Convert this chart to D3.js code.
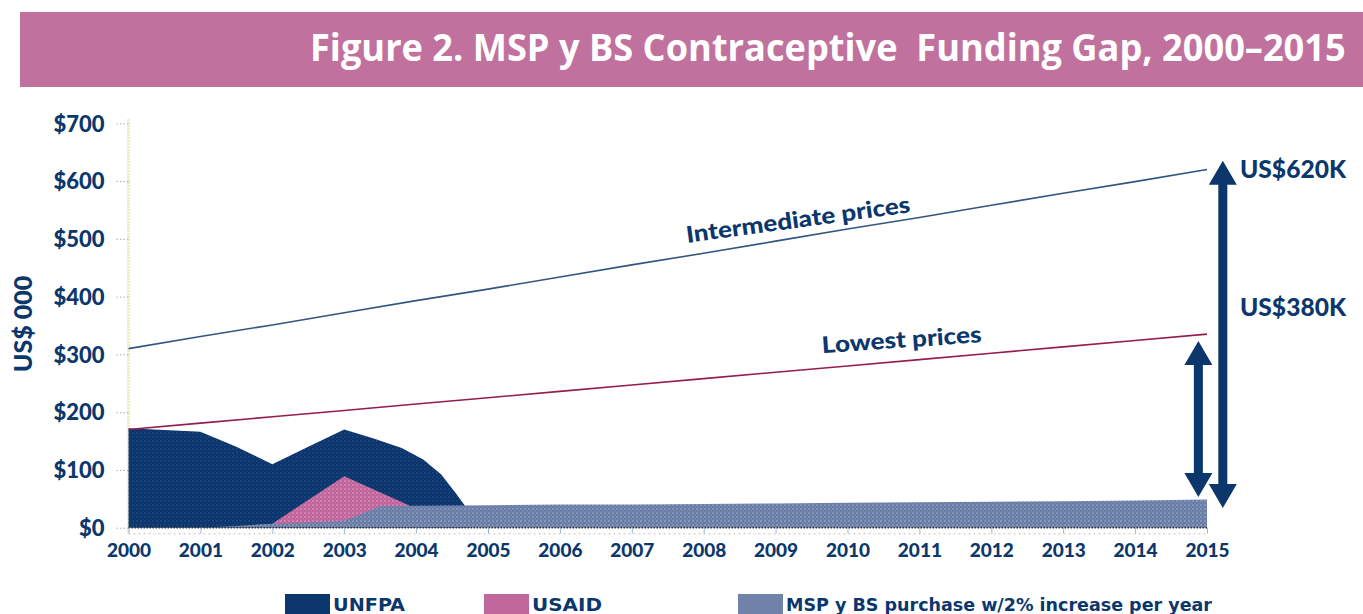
<!DOCTYPE html>
<html><head><meta charset="utf-8">
<script src="https://cdn.jsdelivr.net/npm/d3@7"></script>
<style>
html,body{margin:0;padding:0;background:#fff;}
svg{display:block;}
</style></head>
<body>
<svg id="chart" width="1363" height="614"></svg>
<script>
// ---------- data ----------
const title = "Figure 2. MSP y BS Contraceptive  Funding Gap, 2000\u20132015";
const years = [2000,2001,2002,2003,2004,2005,2006,2007,2008,2009,2010,2011,2012,2013,2014,2015];
const yTicks = [0,100,200,300,400,500,600,700];
const intermediatePrices = [310,331,351,372,393,413,434,455,475,496,517,537,558,579,599,620];
const lowestPrices = [170,181,192,203,214,225,236,247,258,269,280,291,302,313,324,335];
const unfpaX = [2000,2001,2001.5,2002,2002.5,2003,2003.4,2003.8,2004.1,2004.35,2004.55,2004.68,2004.75];
const unfpaY = [172,166,140,110,140,170,155,138,118,92,60,38,30];
const usaidX = [2002,2003,2003.9];
const usaidY = [7,89,39];
const mspX = [2000,2001,2001.5,2002,2002.5,2003,2003.5,2004,2005,2006,2007,2008,2009,2010,2011,2012,2013,2014,2015];
const mspY = [0,0,3,7,9,12,37,38,39,40,40,41,42,43,44,45,46,47,49];
const legendLabels = ["UNFPA","USAID","MSP y BS purchase w/2% increase per year"];
const gapLabels = ["US$620K","US$380K"];

// ---------- styles ----------
const NAVY = "#0b376d", PINK = "#c0679b", GREY = "#7082aa";
const svg = d3.select("#chart");
const x = d3.scaleLinear().domain([2000,2015]).range([128.5,1207]);
const y = d3.scaleLinear().domain([0,700]).range([527.7,123.3]);
const zip = (xs, ys) => xs.map((v,i)=>[v, ys[i]]);

// halftone-like patterns
const defs = svg.append("defs");
function pattern(id, base, dot){
  const p = defs.append("pattern").attr("id",id).attr("patternUnits","userSpaceOnUse")
    .attr("width",4).attr("height",4);
  p.append("rect").attr("width",4).attr("height",4).attr("fill",base);
  p.append("circle").attr("cx",1).attr("cy",1).attr("r",0.9).attr("fill",dot);
  p.append("circle").attr("cx",3).attr("cy",3).attr("r",0.7).attr("fill",dot).attr("opacity",0.6);
}
pattern("pNavy", "#0a346a", "#1f4a82");
pattern("pPink", "#bf6499", "#d88fbd");
pattern("pGrey", "#6a7ca6", "#8aa3c4");

// title banner
svg.append("rect").attr("x",20).attr("y",12).attr("width",1343).attr("height",75).attr("fill","#c1719e");
const tt = svg.append("text").attr("text-anchor","start")
  .attr("font-family","'Open Sans', Lato, sans-serif").attr("font-weight",700).attr("font-size",37)
  .attr("fill","#fff").style("white-space","pre").text(title);
const tw = tt.node().getComputedTextLength();
const tScale = 1036 / tw;
tt.attr("transform",`translate(${1346 - 1036},61) scale(${tScale},1)`);

// vertical yellowish axis line
svg.append("line").attr("x1",x(2000)).attr("x2",x(2000)).attr("y1",y(700)-4).attr("y2",y(0)+6)
  .attr("stroke","#eeeab0").attr("stroke-width",3).attr("stroke-dasharray","2,1");

// y axis
const yAxis = d3.axisLeft(y).tickValues(yTicks).tickSize(14).tickPadding(10).tickFormat(d=>"$"+d);
const gy = svg.append("g").attr("transform",`translate(${x(2000)},0)`).call(yAxis);
gy.select(".domain").remove();
gy.selectAll(".tick line").attr("stroke","#9fb0cc").attr("stroke-dasharray","1.5,2");
gy.selectAll(".tick text").attr("fill",NAVY).attr("font-family","Lato, sans-serif")
  .attr("font-weight",900).attr("font-size",22).attr("dy","0.35em");

// y label
svg.append("text").attr("transform","translate(32,324) rotate(-90)").attr("text-anchor","middle")
  .attr("font-family","Lato, sans-serif").attr("font-weight",900).attr("font-size",25)
  .attr("fill",NAVY).text("US$ 000");

// areas
const area = d3.area().x(d=>x(d[0])).y0(y(0)).y1(d=>y(d[1]));
svg.append("path").datum(zip(unfpaX,unfpaY)).attr("d",area).attr("fill","url(#pNavy)");
svg.append("path").datum(zip(usaidX,usaidY)).attr("d",area).attr("fill","url(#pPink)");
svg.append("path").datum(zip(mspX,mspY)).attr("d",area).attr("fill","url(#pGrey)");

// x axis
svg.append("line").attr("x1",x(2000)).attr("x2",x(2015)).attr("y1",y(0)).attr("y2",y(0))
  .attr("stroke","#333").attr("stroke-width",1.5).attr("stroke-dasharray","1.5,1.5");
svg.append("line").attr("x1",x(2000)).attr("x2",x(2015)).attr("y1",y(0)+6).attr("y2",y(0)+6)
  .attr("stroke","#d8d8d8").attr("stroke-width",1.5).attr("stroke-dasharray","2,3");
const xAxis = d3.axisBottom(x).tickValues(years).tickSize(6).tickPadding(10).tickFormat(d3.format("d"));
const gx = svg.append("g").attr("transform",`translate(0,${y(0)})`).call(xAxis);
gx.select(".domain").remove();
gx.selectAll(".tick line").attr("stroke","#9fb8d0").attr("stroke-width",1);
gx.selectAll(".tick text").attr("fill",NAVY).attr("font-family","Lato, sans-serif")
  .attr("font-weight",900).attr("font-size",19);

// price lines
const line = d3.line().x(d=>x(d[0])).y(d=>y(d[1]));
svg.append("path").datum(zip(years,intermediatePrices)).attr("d",line)
  .attr("fill","none").attr("stroke","#34557f").attr("stroke-width",1.6);
svg.append("path").datum(zip(years,lowestPrices)).attr("d",line)
  .attr("fill","none").attr("stroke","#951c4e").attr("stroke-width",1.6);

// line labels
svg.append("text").attr("transform",`translate(${x(2007.77)},${y(493)}) rotate(-7.8)`)
  .attr("font-family","Lato, sans-serif").attr("font-weight",900).attr("font-size",23)
  .attr("fill",NAVY).attr("textLength",226).attr("lengthAdjust","spacingAndGlyphs").text("Intermediate prices");
svg.append("text").attr("transform",`translate(${x(2009.65)},${y(302)}) rotate(-4)`)
  .attr("font-family","Lato, sans-serif").attr("font-weight",900).attr("font-size",23)
  .attr("fill",NAVY).attr("textLength",160).attr("lengthAdjust","spacingAndGlyphs").text("Lowest prices");

// double arrows
function dblArrow(xv, v0, v1){
  const cx = x(xv), top = y(v1), bot = y(v0);
  const sw = 4.5, hw = 14, hl = 24;
  const p = [[cx,top],[cx+hw,top+hl],[cx+sw,top+hl],[cx+sw,bot-hl],[cx+hw,bot-hl],[cx,bot],
             [cx-hw,bot-hl],[cx-sw,bot-hl],[cx-sw,top+hl],[cx-hw,top+hl]];
  svg.append("path").attr("d","M"+p.map(d=>d.join(",")).join("L")+"Z").attr("fill",NAVY);
}
dblArrow(2015.22, 34, 635);
dblArrow(2014.88, 53, 323);

svg.append("text").attr("x",1240).attr("y",y(620)+8).attr("font-family","Lato, sans-serif")
  .attr("font-weight",900).attr("font-size",24).attr("fill",NAVY)
  .attr("textLength",106).attr("lengthAdjust","spacingAndGlyphs").text(gapLabels[0]);
svg.append("text").attr("x",1240).attr("y",y(380)+8).attr("font-family","Lato, sans-serif")
  .attr("font-weight",900).attr("font-size",24).attr("fill",NAVY)
  .attr("textLength",106).attr("lengthAdjust","spacingAndGlyphs").text(gapLabels[1]);

// legend
const legendColors = [NAVY, PINK, GREY];
const legendX = [285, 484, 738];
const legendW = [72, 70, 426];
legendLabels.forEach((lab,i)=>{
  svg.append("rect").attr("x",legendX[i]).attr("y",594).attr("width",45).attr("height",22).attr("fill",legendColors[i]);
  svg.append("text").attr("x",legendX[i]+48).attr("y",611)
    .attr("font-family","'DejaVu Sans Condensed','DejaVu Sans', sans-serif").attr("font-weight",700)
    .attr("font-size",18).attr("fill",NAVY)
    .attr("textLength",legendW[i]).attr("lengthAdjust","spacingAndGlyphs").text(lab);
});
</script>
</body></html>
